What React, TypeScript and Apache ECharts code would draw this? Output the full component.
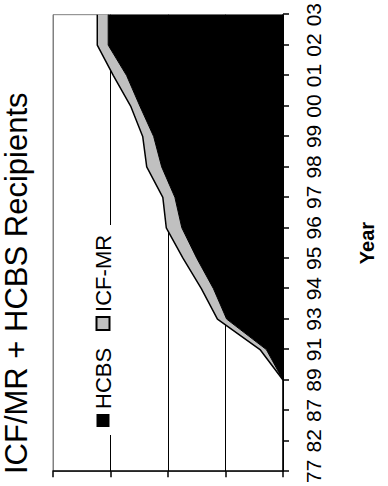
import React, { useEffect, useRef } from "react";
import * as echarts from "echarts";

const years = ["77", "82", "87", "89", "91", "93", "94", "95", "96", "97", "98", "99", "00", "01", "02", "03"];
const hcbs = [null, null, null, 0, 29, 98, 121, 150, 176, 188, 211, 225, 249, 272, 304, 304];
const icfmr = [null, null, null, 0, 11, 16, 21, 24, 27, 21, 26, 19, 16, 23, 19, 19];
const valueTicks = [0, 100, 200, 300, 400];

const FONT = "'Liberation Sans', Arial, sans-serif";

export default function App() {
  const ref = useRef<HTMLDivElement>(null);
  useEffect(() => {
    if (!ref.current) return;
    const chart = echarts.init(ref.current, undefined, { renderer: "svg" });
    chart.setOption({
      animation: false,
      backgroundColor: "#fff",
      title: {
        text: "ICF/MR + HCBS Recipients",
        left: 12,
        top: 0,
        padding: [1, 0, 0, 0],
        textStyle: { fontFamily: FONT, fontSize: 31, fontWeight: "normal", color: "#000" },
      },
      legend: {
        left: 51,
        top: 90,
        icon: "rect",
        itemWidth: 13,
        itemHeight: 13,
        itemGap: 17,
        padding: [2, 10, 2, 8],
        backgroundColor: "#fff",
        textStyle: { fontFamily: FONT, fontSize: 22, color: "#000" },
        data: ["HCBS", "ICF-MR"],
      },
      grid: {
        left: 9,
        right: 10,
        top: 53,
        bottom: 105,
        show: true,
        borderColor: "#808080",
        borderWidth: 1,
        backgroundColor: "transparent",
      },
      xAxis: {
        type: "category",
        data: years,
        boundaryGap: false,
        name: "Year",
        nameLocation: "middle",
        nameGap: 74,
        nameTextStyle: { fontFamily: FONT, fontSize: 20, fontWeight: "bold", color: "#000" },
        axisLine: { lineStyle: { color: "#000", width: 1.5 } },
        axisTick: { show: true, length: 6, lineStyle: { color: "#000", width: 1.5 } },
        axisLabel: { interval: 0, margin: 20, fontFamily: FONT, fontSize: 21, color: "#000" },
        splitLine: { show: false },
      },
      yAxis: {
        type: "value",
        min: valueTicks[0],
        max: valueTicks[valueTicks.length - 1],
        interval: 100,
        axisLine: { show: true, lineStyle: { color: "#000", width: 1.5 } },
        axisTick: { show: true, length: 6, lineStyle: { color: "#000", width: 1.5 } },
        axisLabel: { show: false },
        splitLine: { show: true, lineStyle: { color: ["#000", "#000", "#000", "#000", "#808080"], width: 1 } },
      },
      series: [
        {
          name: "HCBS",
          type: "line",
          stack: "total",
          data: hcbs,
          showSymbol: false,
          symbol: "none",
          lineStyle: { color: "#000", width: 1 },
          itemStyle: { color: "#000", borderColor: "#000" },
          areaStyle: { color: "#000", opacity: 1 },
          z: 3,
        },
        {
          name: "ICF-MR",
          type: "line",
          stack: "total",
          data: icfmr,
          showSymbol: false,
          symbol: "none",
          lineStyle: { color: "#000", width: 1.5 },
          itemStyle: { color: "#C0C0C0", borderColor: "#000", borderWidth: 1.5 },
          areaStyle: { color: "#C0C0C0", opacity: 1 },
          z: 2,
        },
      ],
    });
    return () => chart.dispose();
  }, []);

  return (
    <div style={{ position: "absolute", left: 0, top: 0, width: 388, height: 486, overflow: "hidden", background: "#fff" }}>
      <div
        ref={ref}
        style={{
          position: "absolute",
          left: 0,
          top: 0,
          width: 486,
          height: 388,
          transformOrigin: "0 0",
          transform: "translate(0px, 486px) rotate(-90deg)",
        }}
      />
    </div>
  );
}
